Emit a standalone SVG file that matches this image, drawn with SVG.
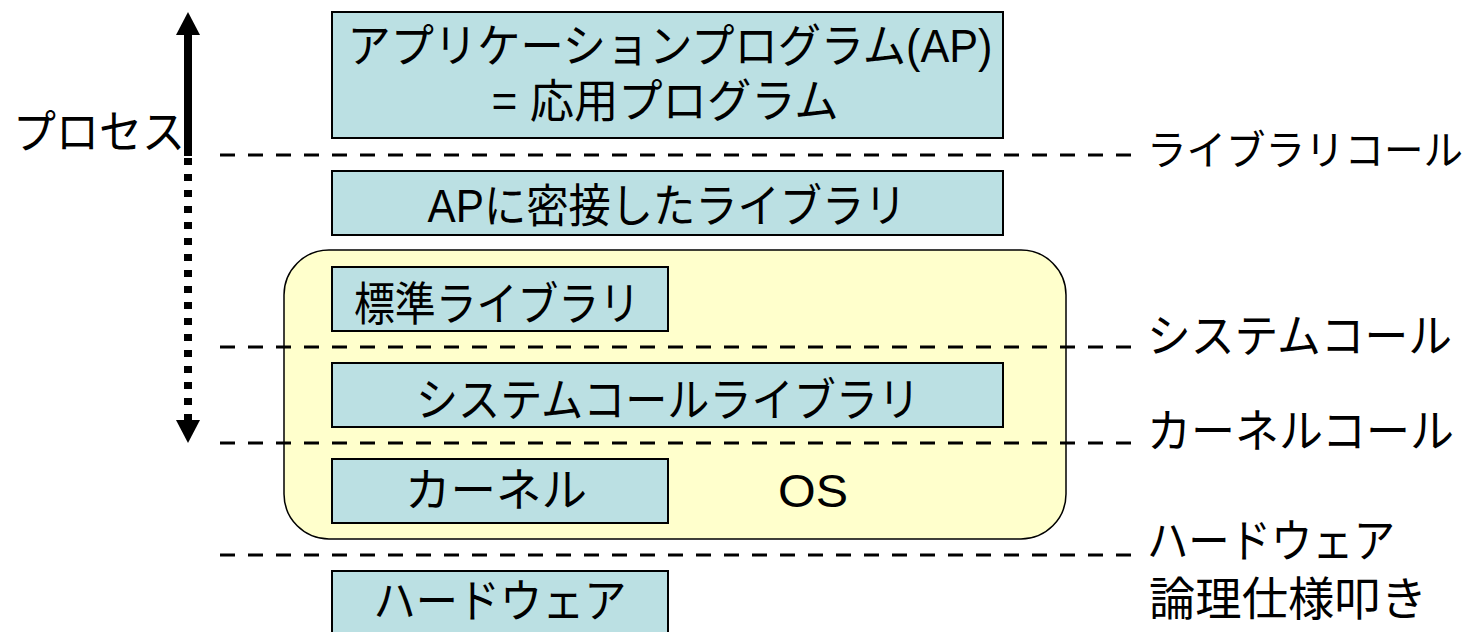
<svg xmlns="http://www.w3.org/2000/svg" width="1481" height="632" viewBox="0 0 1481 632">
<style>
.box{fill:#BBE0E3;stroke:#000;stroke-width:2}
.os{fill:#FFFFCC;stroke:#000;stroke-width:1.5}
.t{font-family:"Liberation Sans","Noto Sans CJK JP",sans-serif;font-size:46px;fill:#000}
.c{text-anchor:middle}
.dash{stroke:#000;stroke-width:3.2;stroke-dasharray:15 13;fill:none}
</style>
<rect width="1481" height="632" fill="#fff"/>
<g id="os">
<rect class="os" x="284" y="250" width="782" height="289" rx="45" ry="45"/>
<text class="t c" x="813" y="507" textLength="70" lengthAdjust="spacingAndGlyphs">OS</text>
</g>
<g id="ap">
<rect class="box" x="332" y="12" width="671" height="126"/>
<text class="t c" x="670" y="62" textLength="645" lengthAdjust="spacingAndGlyphs">アプリケーションプログラム(AP)</text>
<text class="t c" x="665" y="117" textLength="347" lengthAdjust="spacingAndGlyphs">= 応用プログラム</text>
</g>
<g id="aplib">
<rect class="box" x="332" y="171" width="671" height="64"/>
<text class="t c" x="667" y="222" textLength="479" lengthAdjust="spacingAndGlyphs">APに密接したライブラリ</text>
</g>
<g id="stdlib">
<rect class="box" x="332" y="267" width="336" height="64"/>
<text class="t c" x="497" y="320" textLength="286" lengthAdjust="spacingAndGlyphs">標準ライブラリ</text>
</g>
<g id="syscalllib">
<rect class="box" x="332" y="363" width="671" height="64"/>
<text class="t c" x="668" y="416" textLength="504" lengthAdjust="spacingAndGlyphs">システムコールライブラリ</text>
</g>
<g id="kernel">
<rect class="box" x="332" y="459" width="336" height="64"/>
<text class="t c" x="496" y="506" textLength="182" lengthAdjust="spacingAndGlyphs">カーネル</text>
</g>
<g id="hardware">
<rect class="box" x="332" y="571" width="336" height="80"/>
<text class="t c" x="500" y="617" textLength="253" lengthAdjust="spacingAndGlyphs">ハードウェア</text>
</g>
<g id="connectors">
<line class="dash" x1="220" y1="155" x2="1132" y2="155"/>
<line class="dash" x1="220" y1="347" x2="1132" y2="347"/>
<line class="dash" x1="220" y1="443" x2="1132" y2="443"/>
<line class="dash" x1="220" y1="555" x2="1132" y2="555"/>
<line x1="188" y1="34" x2="188" y2="156" stroke="#000" stroke-width="8"/>
<polygon points="188,12 176,35 200,35" fill="#000"/>
<line x1="188" y1="158" x2="188" y2="420" stroke="#000" stroke-width="8" stroke-dasharray="7 9"/>
<polygon points="188,443 176,420 200,420" fill="#000"/>
</g>
<g id="labels">
<text class="t" x="13" y="148" textLength="172" lengthAdjust="spacingAndGlyphs">プロセス</text>
<text class="t" x="1147" y="165" font-size="41" style="font-size:41px" textLength="316" lengthAdjust="spacingAndGlyphs">ライブラリコール</text>
<text class="t" x="1147" y="352" textLength="305" lengthAdjust="spacingAndGlyphs">システムコール</text>
<text class="t" x="1147" y="447" textLength="307" lengthAdjust="spacingAndGlyphs">カーネルコール</text>
<text class="t" x="1147" y="557" textLength="248" lengthAdjust="spacingAndGlyphs">ハードウェア</text>
<text class="t" x="1149" y="615" textLength="278" lengthAdjust="spacingAndGlyphs">論理仕様叩き</text>
</g>
</svg>
